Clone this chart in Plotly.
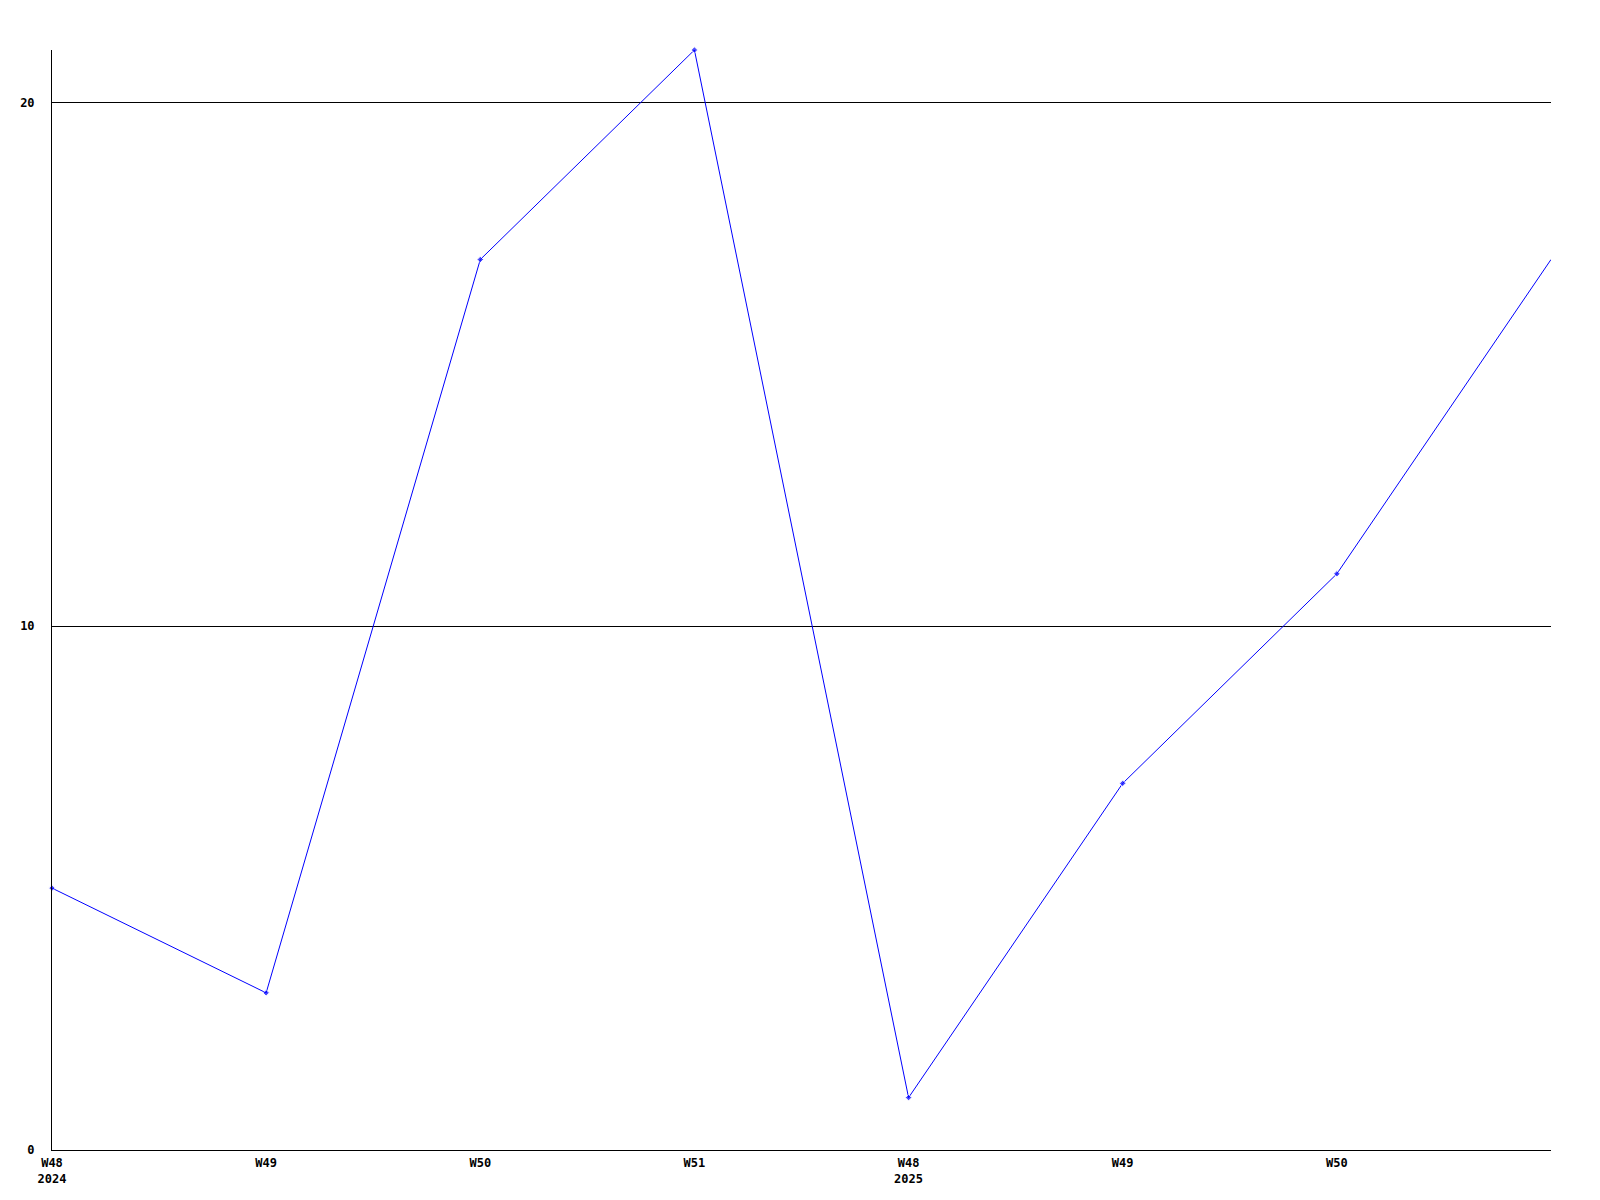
import plotly.graph_objects as go

weeks = ["W48", "W49", "W50", "W51", "W48", "W49", "W50", "W51"]
years = ["2024", "", "", "", "2025", "", "", ""]
values = [5, 3, 17, 21, 1, 7, 11, 17]
y_ticks = [0, 10, 20]

x_idx = list(range(len(values)))
tick_text = [w + ("<br>" + y if y else "") for w, y in zip(weeks, years)]

fig = go.Figure()
fig.add_trace(go.Scatter(
    x=x_idx, y=values, mode="lines+markers",
    line=dict(color="#0000ff", width=1),
    marker=dict(color="#0000ff", size=[5] * (len(values) - 1) + [0], symbol="diamond"),
    cliponaxis=False,
    showlegend=False,
))

font = dict(family="DejaVu Sans Mono, Liberation Mono, monospace", size=12, color="black", weight="bold")

fig.update_layout(
    width=1600, height=1200,
    margin=dict(l=42, r=57, t=42, b=58),
    paper_bgcolor="white", plot_bgcolor="white",
    font=font,
    xaxis=dict(
        range=[0, len(values) - 1], tickmode="array",
        tickvals=x_idx[:-1], ticktext=tick_text[:-1],
        showgrid=False, zeroline=False, showline=True, linecolor="black", linewidth=1,
        ticks="", tickfont=font, ticklabelstandoff=2,
    ),
    yaxis=dict(
        range=[0, 21], tickmode="array", tickvals=y_ticks,
        ticktext=[str(v) for v in y_ticks],
        showgrid=True, gridcolor="black", gridwidth=1, zeroline=False,
        showline=True, linecolor="black", linewidth=1, ticks="", tickfont=font,
        ticklabelstandoff=14,
    ),
)

fig.write_html("out.html")
